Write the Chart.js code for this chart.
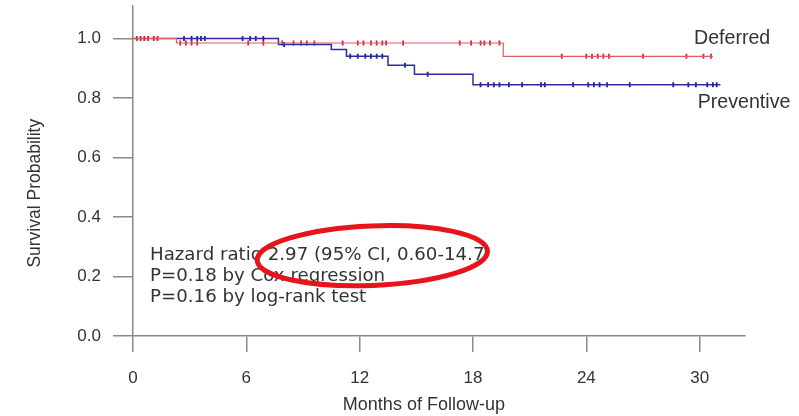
<!DOCTYPE html>
<html lang="en">
<head>
    <meta charset="UTF-8">
    <title>Survival by Treatment Strategy</title>
    <script src="https://cdn.jsdelivr.net/npm/chart.js"></script>
    <style>
        body { margin: 0; background: #fff; }
        canvas { display: block; }
    </style>
</head>
<body>
    <canvas id="kmChart" width="799" height="416"></canvas>

    <script>
        // Kaplan-Meier step knots (months, survival)
        const deferredTimes = [0, 2.3, 19.6, 30.7];
        const deferredSurv = [1.0, 0.985, 0.94, 0.94];
        const preventiveTimes = [0, 7.7, 10.5, 11.3, 13.5, 14.9, 18.0, 31.1];
        const preventiveSurv = [1.0, 0.98, 0.963, 0.94, 0.91, 0.88, 0.845, 0.845];

        // censored observations (months)
        const deferredCensor = [0.2, 0.4, 0.6, 0.8, 1.1, 1.3, 2.5, 2.8, 3.1, 3.4, 6.1, 6.9, 7.9, 8.5, 8.9, 9.2, 9.6,
            11.1, 11.9, 12.2, 12.6, 12.9, 13.2, 13.4, 14.3, 17.3, 17.9, 18.4, 18.6, 18.9, 19.4,
            22.7, 24.0, 24.3, 24.6, 24.9, 25.2, 27.0, 29.3, 30.2, 30.6];
        const preventiveCensor = [2.7, 3.1, 3.4, 3.6, 3.8, 5.8, 6.2, 6.5, 6.9, 8.0, 11.5, 11.9, 12.3, 12.6, 12.9, 13.2,
            14.4, 15.6, 18.4, 18.8, 19.1, 19.4, 19.9, 20.6, 21.6, 21.8, 23.3, 24.1, 24.4, 24.7, 25.1,
            26.3, 28.6, 29.4, 29.8, 30.4, 30.7, 30.9];

        const xTicks = [0, 6, 12, 18, 24, 30];
        const yTicks = [0, 0.2, 0.4, 0.6, 0.8, 1.0];

        const groupLabels = ['Deferred', 'Preventive'];
        const statLines = [
            'Hazard ratio 2.97 (95% CI, 0.60-14.7',
            'P=0.18 by Cox regression',
            'P=0.16 by log-rank test'
        ];

        const RED = '#dd5a62';
        const BLUE = '#2c2c9c';
        const FONT = '"Liberation Sans", Arial, sans-serif';
        const WIDE = '"DejaVu Sans", sans-serif';

        function toPoints(times, surv) {
            return times.map((t, i) => ({ x: t, y: surv[i] }));
        }

        // survival value at time t from the step knots
        function survAt(times, surv, t) {
            let s = surv[0];
            for (let i = 0; i < times.length; i++) {
                if (times[i] <= t) s = surv[i];
            }
            return s;
        }

        function censorPoints(ct, times, surv) {
            return ct.map(t => ({ x: t, y: survAt(times, surv, t) }));
        }

        // labels, stats box, axis titles and the red highlight ring
        const annotations = {
            id: 'annotations',
            afterDraw(chart) {
                const { ctx, scales: { x, y } } = chart;
                ctx.save();
                ctx.fillStyle = '#333';
                ctx.textBaseline = 'middle';
                ctx.textAlign = 'left';

                ctx.font = '19.6px ' + FONT;
                ctx.fillText(groupLabels[0], x.getPixelForValue(29.7), y.getPixelForValue(1.0));
                ctx.fillText(groupLabels[1], x.getPixelForValue(29.9), y.getPixelForValue(0.783));

                ctx.font = '18.2px ' + WIDE;
                const sx = x.getPixelForValue(0.9);
                const sy = [0.27, 0.2, 0.13];
                statLines.forEach((line, i) => {
                    ctx.fillText(line, sx, y.getPixelForValue(sy[i]));
                });

                // axis titles, centred on the tick ranges
                ctx.textAlign = 'center';
                ctx.font = '18px ' + FONT;
                ctx.fillText('Months of Follow-up', x.getPixelForValue(15.4), 405);

                ctx.save();
                ctx.translate(35, y.getPixelForValue(0.48));
                ctx.rotate(-Math.PI / 2);
                ctx.font = '17.5px ' + FONT;
                ctx.fillText('Survival Probability', 0, 0);
                ctx.restore();

                // red ring
                const cx = x.getPixelForValue(12.67);
                const cy = y.getPixelForValue(0.27);
                const rx = x.getPixelForValue(12.67 + 6.1) - cx;
                const ry = cy - y.getPixelForValue(0.27 + 0.1);
                ctx.beginPath();
                ctx.ellipse(cx, cy, rx, ry, -0.04, 0, Math.PI * 2);
                ctx.strokeStyle = '#e8141c';
                ctx.lineWidth = 5;
                ctx.stroke();
                ctx.restore();
            }
        };

        const ctx = document.getElementById('kmChart').getContext('2d');
        new Chart(ctx, {
            type: 'line',
            data: {
                datasets: [
                    {
                        label: groupLabels[0],
                        data: toPoints(deferredTimes, deferredSurv),
                        stepped: 'before',
                        borderColor: RED,
                        borderWidth: 1.2,
                        pointRadius: 0,
                        fill: false
                    },
                    {
                        label: groupLabels[1],
                        data: toPoints(preventiveTimes, preventiveSurv),
                        stepped: 'before',
                        borderColor: BLUE,
                        borderWidth: 1.5,
                        pointRadius: 0,
                        fill: false
                    },
                    {
                        type: 'scatter',
                        label: 'Deferred censored',
                        data: censorPoints(deferredCensor, deferredTimes, deferredSurv),
                        pointStyle: 'line',
                        rotation: 90,
                        pointRadius: 2.5,
                        borderColor: '#c8283c',
                        pointBorderWidth: 1.8,
                        showLine: false
                    },
                    {
                        type: 'scatter',
                        label: 'Preventive censored',
                        data: censorPoints(preventiveCensor, preventiveTimes, preventiveSurv),
                        pointStyle: 'line',
                        rotation: 90,
                        pointRadius: 2.5,
                        borderColor: '#1e1eaa',
                        pointBorderWidth: 1.8,
                        showLine: false
                    }
                ]
            },
            options: {
                responsive: false,
                animation: false,
                layout: { padding: { top: 5, right: 54, left: 0, bottom: 0 } },
                plugins: {
                    legend: { display: false },
                    tooltip: { enabled: false }
                },
                scales: {
                    x: {
                        type: 'linear',
                        min: 0,
                        max: 32.4,
                        afterBuildTicks: axis => { axis.ticks = xTicks.map(v => ({ value: v })); },
                        afterFit: axis => {
                            axis.height = 80;
                            axis.paddingLeft = 0;
                            axis.paddingRight = 0;
                        },
                        ticks: {
                            color: '#333',
                            padding: 16,
                            maxRotation: 0,
                            font: { family: FONT, size: 17 }
                        },
                        grid: { drawOnChartArea: false, tickLength: 16, color: '#8a8a8a', lineWidth: 1.5 },
                        border: { display: true, color: '#8a8a8a', width: 1.5 }
                    },
                    y: {
                        min: 0,
                        max: 1.11,
                        afterBuildTicks: axis => { axis.ticks = yTicks.map(v => ({ value: v })); },
                        afterFit: axis => {
                            axis.width = 133;
                            axis.paddingTop = 0;
                            axis.paddingBottom = 0;
                        },
                        ticks: {
                            color: '#333',
                            padding: 12,
                            font: { family: FONT, size: 17 },
                            callback: v => v.toFixed(1)
                        },
                        grid: { drawOnChartArea: false, tickLength: 20, color: '#8a8a8a', lineWidth: 1.5 },
                        border: { display: true, color: '#8a8a8a', width: 1.5 }
                    }
                }
            },
            plugins: [annotations]
        });
    </script>
</body>
</html>
